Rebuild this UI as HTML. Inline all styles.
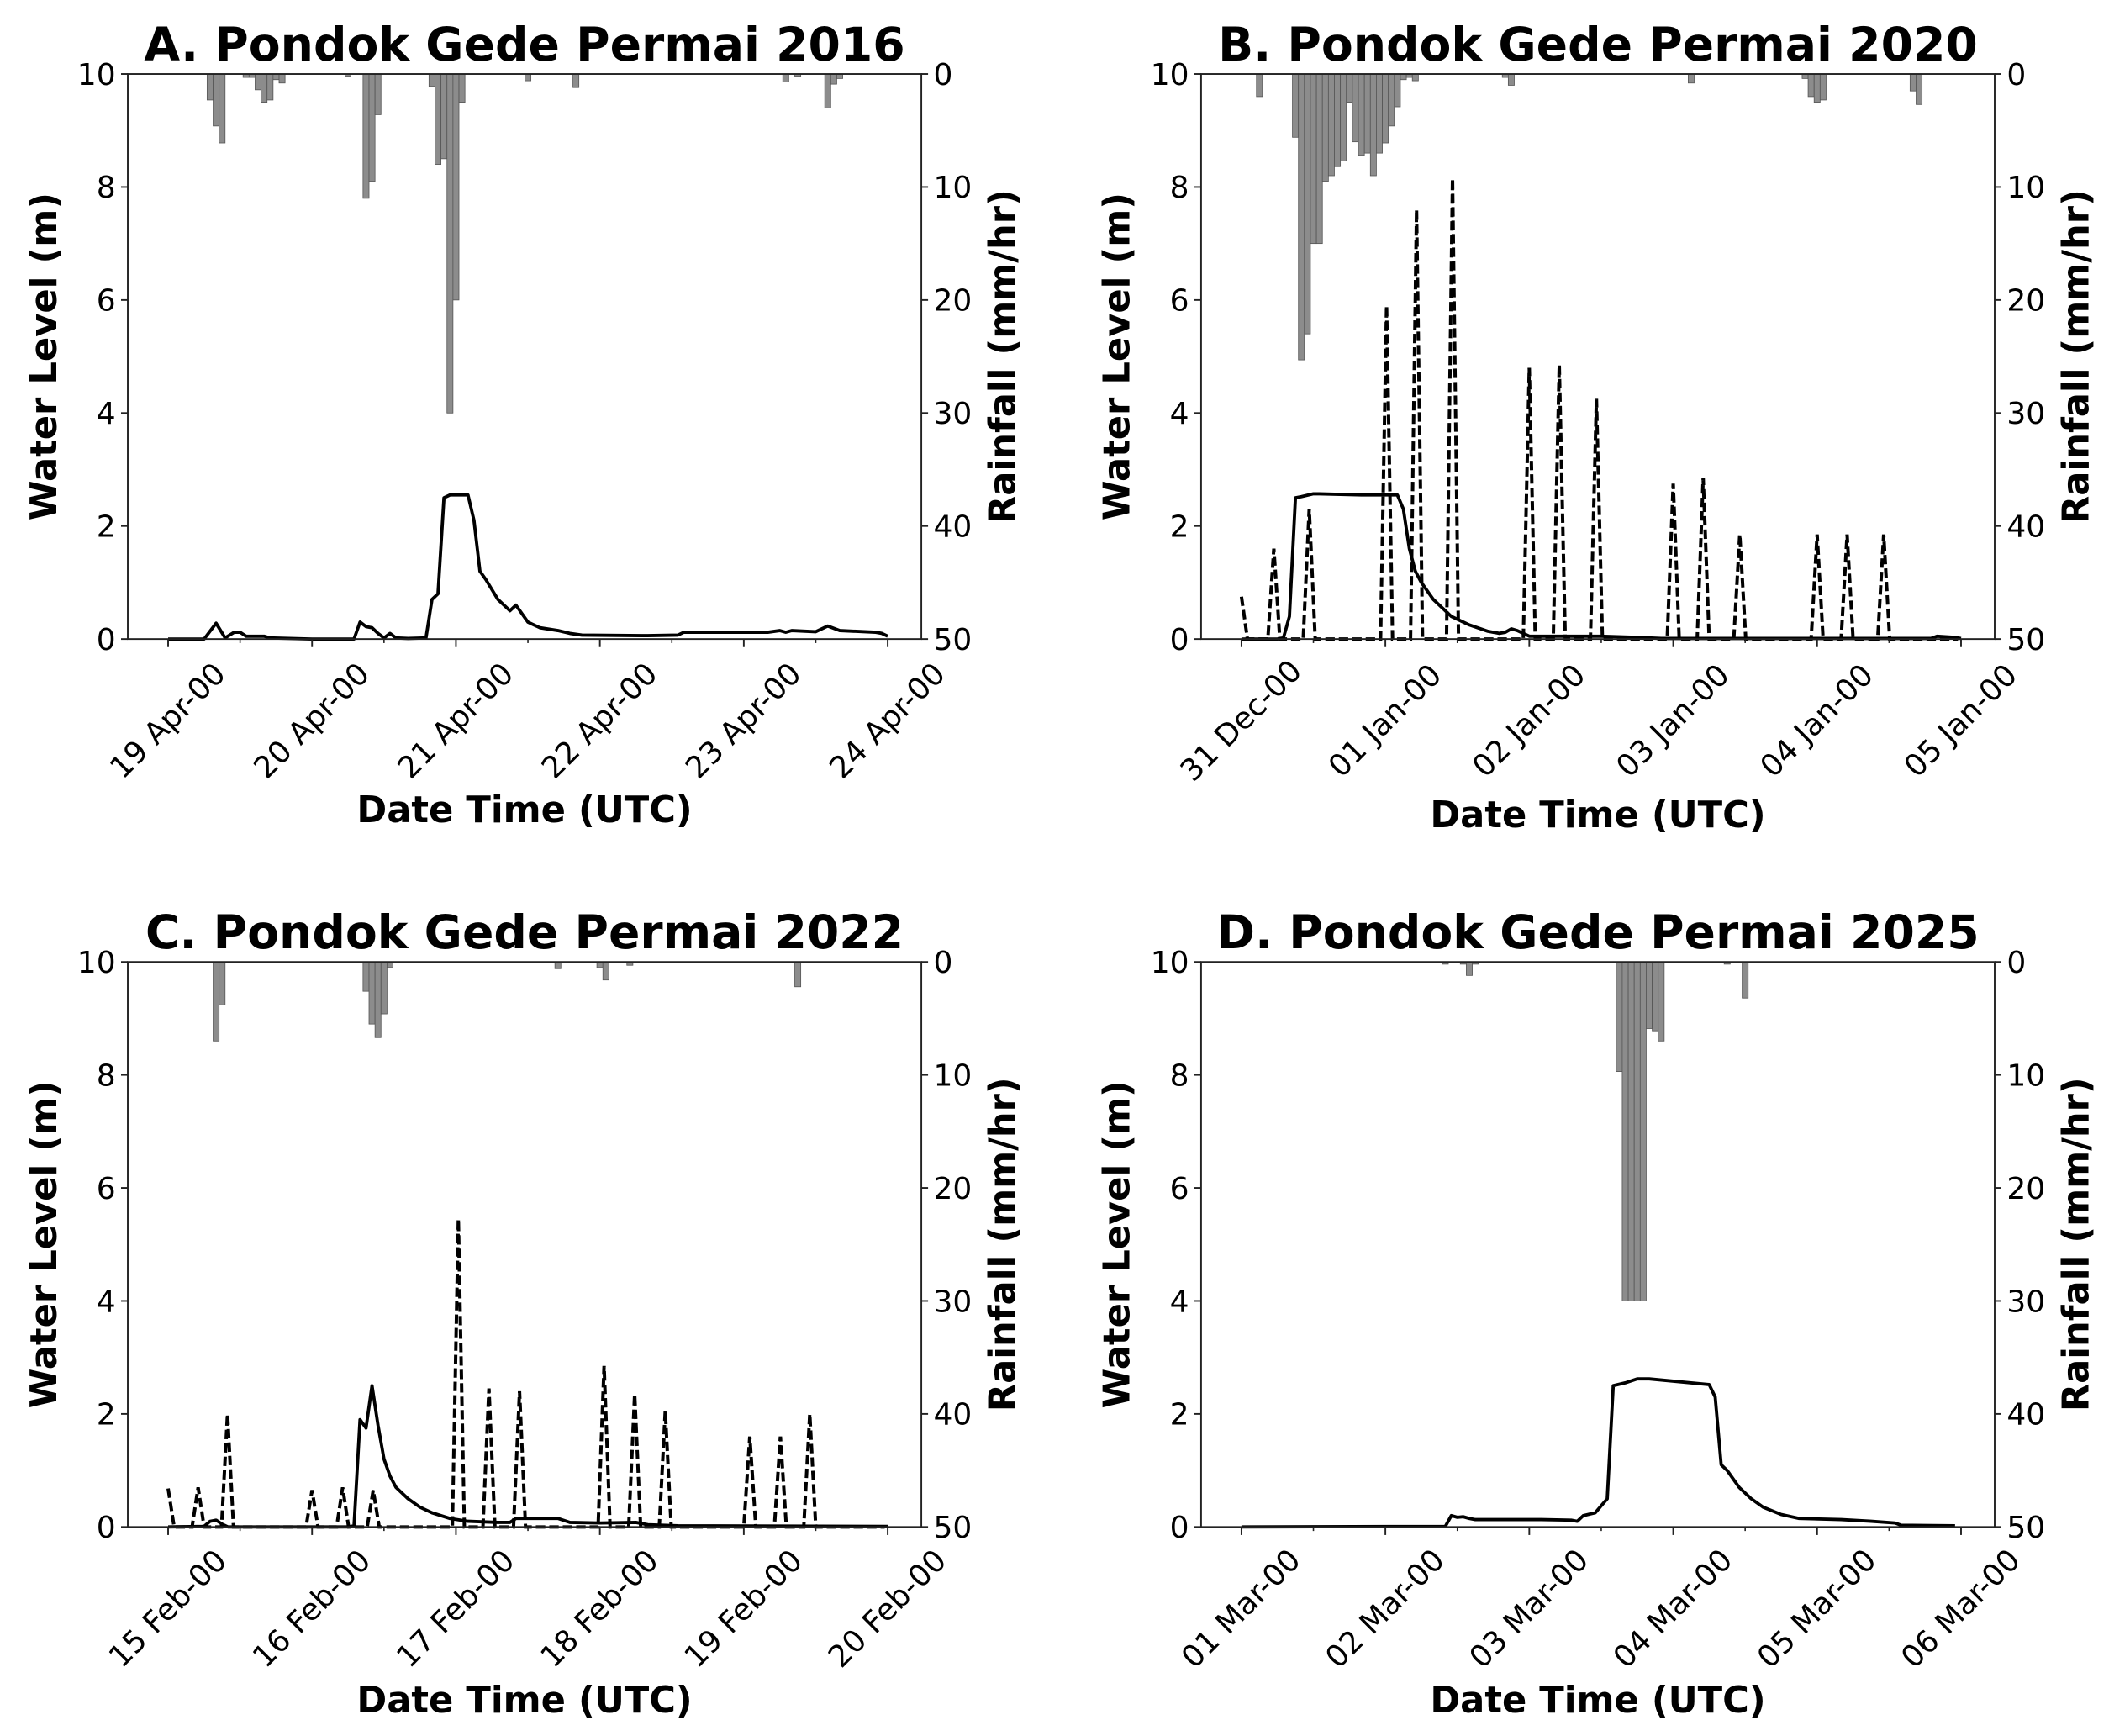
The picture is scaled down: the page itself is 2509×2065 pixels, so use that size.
<!DOCTYPE html>
<html><head><meta charset="utf-8"><style>
html,body{margin:0;padding:0;background:#fff;}
svg{display:block;}
text{font-family:"DejaVu Sans","Liberation Sans",sans-serif;fill:#000;}
</style></head><body>
<svg id="chart" xmlns="http://www.w3.org/2000/svg" width="2509" height="2065" viewBox="0 0 1568 1290.4" preserveAspectRatio="none"></svg>
<script>
// ---------- Panel A (2016) ----------
const titleA = "A. Pondok Gede Permai 2016";
const dayLabelsA = ["19 Apr-00","20 Apr-00","21 Apr-00","22 Apr-00","23 Apr-00","24 Apr-00"];
const rainHoursA = [7,8,9,13,14,15,16,17,18,19,30,33,34,35,44,45,46,47,48,49,60,68,103,105,110,111,112];
const rainValsA  = [2.3,4.6,6.1,0.3,0.3,1.4,2.5,2.3,0.5,0.8,0.2,11,9.5,3.6,1.1,8,7.5,30,20,2.5,0.6,1.2,0.7,0.2,3,0.9,0.4];
const obsHoursA = [0,6,8,9.5,11,12,13,16,17,24,31,32,33,34,35,36,37,38,40,43,44,45,46,47,50,51,52,53,55,57,58,60,62,65,67,69,80,85,86,100,102,103,104,108,110,112,118,119,120];
const obsValsA  = [0,0,0.28,0.02,0.12,0.12,0.05,0.05,0.02,0,0,0.3,0.22,0.2,0.1,0.02,0.1,0.02,0.01,0.02,0.7,0.8,2.5,2.55,2.55,2.1,1.2,1.05,0.7,0.5,0.6,0.3,0.2,0.15,0.1,0.07,0.06,0.07,0.12,0.12,0.15,0.12,0.15,0.13,0.23,0.15,0.12,0.1,0.05];
const simPeakHoursA = [];
const simPeakValsA = [];

// ---------- Panel B (2020) ----------
const titleB = "B. Pondok Gede Permai 2020";
const dayLabelsB = ["31 Dec-00","01 Jan-00","02 Jan-00","03 Jan-00","04 Jan-00","05 Jan-00"];
const rainHoursB = [3,9,10,11,12,13,14,15,16,17,18,19,20,21,22,23,24,25,26,27,28,29,44,45,75,94,95,96,97,112,113];
const rainValsB  = [2,5.6,25.3,23,15,15,9.5,9,8.2,7.7,2.5,6,7.2,7,9,7,6.1,4.6,2.9,0.5,0.3,0.6,0.3,1,0.8,0.4,2,2.5,2.3,1.5,2.7];
const obsHoursB = [0,6,7,8,9,10,12,13,20,26,27,28,29,30,32,35,38,41,43,44,45,46,47,48,60,66,70,115,116,119,120];
const obsValsB  = [0,0,0.02,0.4,2.5,2.52,2.57,2.57,2.55,2.55,2.3,1.6,1.2,1,0.7,0.4,0.25,0.14,0.1,0.12,0.18,0.15,0.1,0.05,0.05,0.03,0.01,0.01,0.05,0.03,0.01];
const simPeakHoursB = [0,5.4,11.3,24.2,29.2,35.2,48,53,59.2,72,77,83.1,96,101,107.1];
const simPeakValsB  = [0.75,1.6,2.3,5.9,7.6,8.15,4.8,4.85,4.25,2.75,2.85,1.85,1.85,1.85,1.85];

// ---------- Panel C (2022) ----------
const titleC = "C. Pondok Gede Permai 2022";
const dayLabelsC = ["15 Feb-00","16 Feb-00","17 Feb-00","18 Feb-00","19 Feb-00","20 Feb-00"];
const rainHoursC = [8,9,30,33,34,35,36,37,55,65,72,73,77,105];
const rainValsC  = [7,3.8,0.1,2.6,5.5,6.7,4.6,0.5,0.1,0.6,0.5,1.6,0.3,2.2];
const obsHoursC = [0,6,7,8,9,10,30,31,32,33,34,35,36,37,38,40,42,44,47,50,55,57,58,62,65,67,72,78,80,85,120];
const obsValsC  = [0,0.01,0.1,0.12,0.05,0,0,0.02,1.9,1.75,2.5,1.8,1.2,0.9,0.7,0.5,0.35,0.25,0.15,0.1,0.08,0.08,0.15,0.15,0.15,0.08,0.07,0.08,0.04,0.02,0.01];
const simPeakHoursC = [0,5,9.9,24,29.1,34.2,48.4,53.5,58.6,72.7,77.8,82.9,97,102.1,107];
const simPeakValsC  = [0.68,0.7,2.0,0.65,0.7,0.65,5.45,2.45,2.4,2.85,2.35,2.05,1.6,1.6,2.0];

// ---------- Panel D (2025) ----------
const titleD = "D. Pondok Gede Permai 2025";
const dayLabelsD = ["01 Mar-00","02 Mar-00","03 Mar-00","04 Mar-00","05 Mar-00","06 Mar-00"];
const rainHoursD = [34,37,38,39,63,64,65,66,67,68,69,70,81,84];
const rainValsD  = [0.2,0.2,1.2,0.2,9.7,30,30,30,30,5.9,6.1,7,0.2,3.2];
const obsHoursD = [0,34,35,36,37,38,39,50,55,56,57,59,61,62,64,66,68,78,79,80,81,83,85,87,90,93,100,105,109,110,119];
const obsValsD  = [0,0.01,0.2,0.17,0.18,0.15,0.13,0.13,0.12,0.1,0.2,0.25,0.5,2.5,2.55,2.62,2.62,2.52,2.3,1.1,1.0,0.7,0.5,0.35,0.22,0.15,0.13,0.1,0.07,0.03,0.02];
const simPeakHoursD = [];
const simPeakValsD = [];

const wlTicks = [0,2,4,6,8,10];
const rainTicks = [0,10,20,30,40,50];

const NS = "http://www.w3.org/2000/svg";
const svg = document.getElementById("chart");
function mk(tag, attrs, parent){
  const e = document.createElementNS(NS, tag);
  for (const k in attrs) e.setAttribute(k, attrs[k]);
  (parent||svg).appendChild(e);
  return e;
}

function panel(id, L, T, title, dayLabels, rainH, rainV, obsH, obsV, simH, simV, xlabelY){
  const R = L + 590, B = T + 420;
  const g = mk("g", {});
  
  
  const day0 = L + 30, dayW = 107;
  const xs = h => day0 + h * dayW / 24;
  const yWL = v => B - v * (B - T) / 10;
  const yRain = v => T + v * (B - T) / 50;

  for (let i = 0; i < rainH.length; i++){
    const bw = dayW / 24;
    const r = mk("rect", {x: xs(rainH[i]) - bw/2, y: T, width: bw, height: yRain(rainV[i]) - T, fill: "#8c8c8c", stroke: "#555", "stroke-width": 0.5}, g);
    
    
  }
  if (simH.length){
    let pts = [];
    for (let i = 0; i < simH.length; i++){
      const t = simH[i];
      if (t - 1 >= 0) pts.push([t - 1, 0]);
      pts.push([t, simV[i]]);
      pts.push([t + 1, 0]);
    }
    pts.push([119.5, 0]);
    const p = mk("polyline", {points: pts.map(q => xs(q[0]).toFixed(2) + "," + yWL(q[1]).toFixed(2)).join(" "), fill: "none", stroke: "#000", "stroke-width": 2.5, "stroke-dasharray": "7,3"}, g);
    
    
  }
  const ol = mk("polyline", {points: obsH.map((h, i) => xs(h).toFixed(2) + "," + yWL(obsV[i]).toFixed(2)).join(" "), fill: "none", stroke: "#000", "stroke-width": 2.4, "stroke-linejoin": "round"}, g);
  
  

  const fr = mk("rect", {x: L, y: T, width: R - L, height: B - T, fill: "none", stroke: "#222", "stroke-width": 1.2}, g);
  
  

  wlTicks.forEach(v => {
    const y = yWL(v);
    mk("line", {x1: L - 5, x2: L, y1: y, y2: y, stroke: "#222", "stroke-width": 1.2}, g);
    const t = mk("text", {x: L - 9, y: y + 8, "text-anchor": "end", "font-size": 22.5}, g);
    t.textContent = v;
    
    
  });
  rainTicks.forEach(v => {
    const y = yRain(v);
    mk("line", {x1: R, x2: R + 5, y1: y, y2: y, stroke: "#222", "stroke-width": 1.2}, g);
    const t = mk("text", {x: R + 9, y: y + 8, "text-anchor": "start", "font-size": 22.5}, g);
    t.textContent = v;
    
    
  });
  for (let d = 0; d < dayLabels.length; d++){
    const x = xs(d * 24);
    mk("line", {x1: x, x2: x, y1: B, y2: B + 6, stroke: "#222", "stroke-width": 1.2}, g);
    if (d < dayLabels.length - 1){
      const xm = xs(d * 24 + 12);
      mk("line", {x1: xm, x2: xm, y1: B, y2: B + 3, stroke: "#222", "stroke-width": 1}, g);
    }
    const cy = B + 61;
    const t = mk("text", {x: x, y: cy, "text-anchor": "middle", "dominant-baseline": "central", "font-size": 22.5, transform: "rotate(-45 " + x + " " + cy + ")"}, g);
    t.textContent = dayLabels[d];
    
    
  }
  const tt = mk("text", {x: (L + R) / 2, y: T - 10, "text-anchor": "middle", "font-size": 34.5, "font-weight": "bold"}, g);
  tt.textContent = title;
  
  
  const cy = (T + B) / 2;
  const yl = mk("text", {x: L - 62, y: cy, "text-anchor": "middle", "dominant-baseline": "central", "font-size": 27, "font-weight": "bold", transform: "rotate(-90 " + (L - 62) + " " + cy + ")"}, g);
  yl.textContent = "Water Level (m)";
  
  
  const yr = mk("text", {x: R + 61, y: cy, "text-anchor": "middle", "dominant-baseline": "central", "font-size": 27, "font-weight": "bold", transform: "rotate(-90 " + (R + 61) + " " + cy + ")"}, g);
  yr.textContent = "Rainfall (mm/hr)";
  
  
  const xl = mk("text", {x: (L + R) / 2, y: xlabelY, "text-anchor": "middle", "font-size": 27, "font-weight": "bold"}, g);
  xl.textContent = "Date Time (UTC)";
  
  
}

panel("a", 95, 55, titleA, dayLabelsA, rainHoursA, rainValsA, obsHoursA, obsValsA, simPeakHoursA, simPeakValsA, 611);
panel("b", 893, 55, titleB, dayLabelsB, rainHoursB, rainValsB, obsHoursB, obsValsB, simPeakHoursB, simPeakValsB, 615);
panel("c", 95, 715, titleC, dayLabelsC, rainHoursC, rainValsC, obsHoursC, obsValsC, simPeakHoursC, simPeakValsC, 1273);
panel("d", 893, 715, titleD, dayLabelsD, rainHoursD, rainValsD, obsHoursD, obsValsD, simPeakHoursD, simPeakValsD, 1273);
</script>
</body></html>
